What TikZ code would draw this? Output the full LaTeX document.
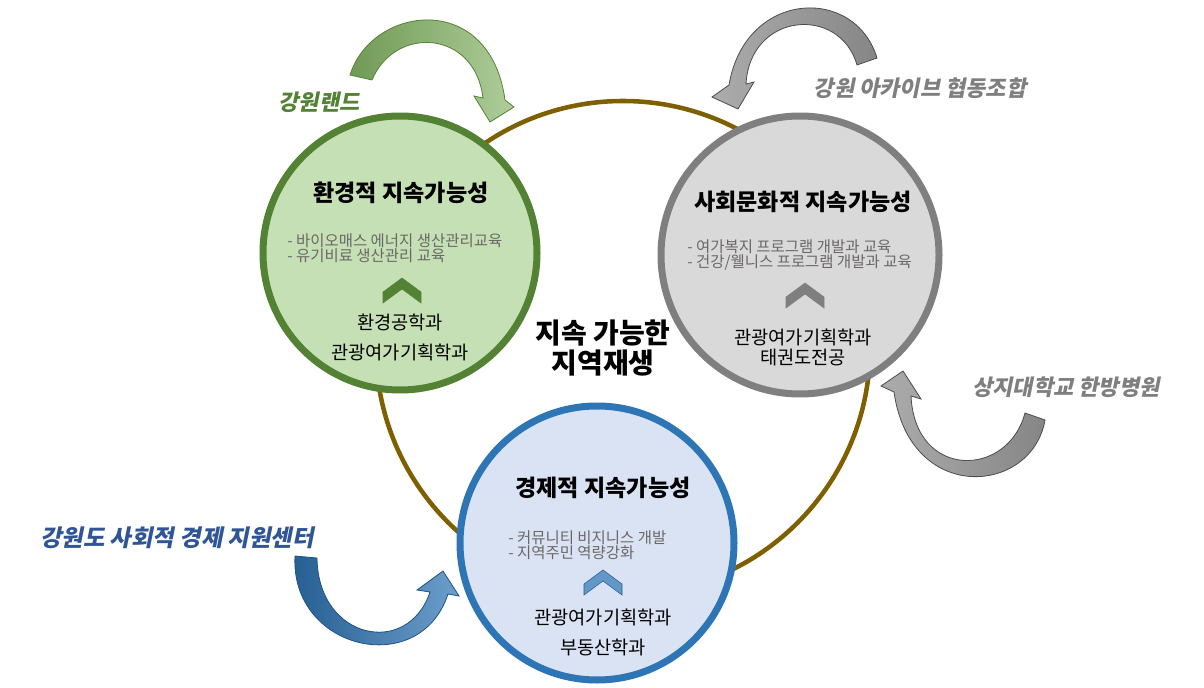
\documentclass[tikz,border=0pt]{standalone}
\usepackage{fontspec}
\setmainfont{Noto Sans CJK KR}
\newfontfamily\slantfont[FakeSlant=0.2]{Noto Sans CJK KR}
\usepackage{tikz}

\definecolor{ringbrown}{HTML}{7F6000}
\definecolor{envline}{HTML}{548235}
\definecolor{envfill}{HTML}{C5E0B4}
\definecolor{socline}{HTML}{7F7F7F}
\definecolor{socfill}{HTML}{D9D9D9}
\definecolor{ecoline}{HTML}{2E75B6}
\definecolor{ecofill}{HTML}{DAE3F3}
\definecolor{bulletgray}{HTML}{6B6767}
\definecolor{partnerblue}{HTML}{2F5597}

% chevron: top x, top y, fill, draw
\newcommand{\chevron}[4]{%
  \filldraw[fill=#3, draw=#4, line width=0.4pt] (#1-19,#2+14) -- (#1,#2) -- (#1+19,#2+14)
    -- (#1+19,#2+25) -- (#1,#2+11) -- (#1-19,#2+25) -- cycle;}

\begin{document}
\begin{tikzpicture}[x=0.75pt, y=-0.75pt,
    pillar/.style={circle, line width=5.25pt, minimum size=205.5pt, inner sep=0pt},
    title/.style={font=\fontsize{17.3}{20}\selectfont\bfseries},
    bullets/.style={font=\fontsize{11.6}{11.4}\selectfont, text=bulletgray, align=left, anchor=west, inner sep=0pt},
    dept/.style={font=\fontsize{14}{16}\selectfont},
    partner/.style={font=\slantfont\fontsize{16.5}{18}\selectfont\bfseries}]
            \useasboundingbox (0, 0) rectangle (1204, 688);
            \node[circle, draw=ringbrown, line width=3.4pt, minimum size=370.5pt] (ring) at (623, 348){};
            \node[pillar, draw=envline, fill=envfill] (env) at (400, 253){};
            \node[pillar, draw=socline, fill=socfill, minimum size=208.5pt] (soc) at (800, 255){};
            \node[pillar, draw=ecoline, fill=ecofill] (eco) at (597, 543){};
            % partner arrows
            \draw[left color=envline!75!envfill, right color=envfill!80!envline, draw=envline, line width=0.6pt]
                (350, 75) .. controls (372, 5) and (490, -10) .. (505, 100) -- (514, 107) -- (490, 122)
                -- (474, 96) -- (483, 98) .. controls (475, 30) and (395, 25) .. (372, 80) -- cycle;
            \draw[left color=gray!65, right color=gray!95, draw=gray!60!black, line width=0.6pt]
                (877, 58) .. controls (855, -15) and (745, -10) .. (729, 85) -- (712, 97) -- (738, 109)
                -- (754, 82) -- (746, 84) .. controls (750, 12) and (840, 5) .. (857, 65) -- cycle;
            \draw[left color=gray!65, right color=gray!95, draw=gray!60!black, line width=0.6pt]
                (1045, 420) .. controls (1032, 495) and (910, 505) .. (894, 392) -- (881, 386) -- (903, 371)
                -- (921, 399) -- (911, 396) .. controls (915, 480) and (1008, 478) .. (1025, 413) -- cycle;
            \draw[left color=ecoline!80!black, right color=ecoline!70!white, draw=ecoline!70!black, line width=0.6pt]
                (295, 556) .. controls (290, 650) and (420, 680) .. (448, 594) -- (459, 596) -- (443, 571)
                -- (417, 590) -- (430, 592) .. controls (408, 658) and (318, 640) .. (317, 558) -- cycle;
            % environmental
            \node[title] (envtitle) at (401, 193){환경적 지속가능성};
            \node[bullets] (envlist) at (287, 248){- 바이오매스 에너지 생산관리교육\\- 유기비료 생산관리 교육};
            \chevron{402}{278}{envline}{envline}
            \node[dept] (envdeptA) at (400, 322){환경공학과};
            \node[dept] (envdeptB) at (400, 352){관광여가기획학과};
            % socio-cultural
            \node[title] (soctitle) at (803, 202){사회문화적 지속가능성};
            \node[bullets] (soclist) at (687, 255){- 여가복지 프로그램 개발과 교육\\- 건강/웰니스 프로그램 개발과 교육};
            \chevron{805}{283}{socline}{socline}
            \node[dept] (socdeptA) at (803, 337){관광여가기획학과};
            \node[dept] (socdeptB) at (803, 358){태권도전공};
            % economic
            \node[title] (ecotitle) at (603, 488){경제적 지속가능성};
            \node[bullets] (ecolist) at (508, 545){- 커뮤니티 비지니스 개발\\- 지역주민 역량강화};
            \chevron{603}{570}{ecoline!75!white}{ecoline!80!black}
            \node[dept] (ecodeptA) at (603, 617){관광여가기획학과};
            \node[dept] (ecodeptB) at (603, 647){부동산학과};
            % centre and partners
            \node[font=\fontsize{21}{23}\selectfont\bfseries, align=center] (goal) at (603, 348){지속 가능한\\지역재생};
            \node[partner, text=envline] (land) at (319, 102){강원랜드};
            \node[partner, text=socline] (archive) at (920, 88){강원 아카이브 협동조합};
            \node[partner, text=socline] (hospital) at (1066, 387){상지대학교 한방병원};
            \node[partner, text=partnerblue, font=\slantfont\fontsize{17.5}{19}\selectfont\bfseries] (center) at (177, 538){강원도 사회적 경제 지원센터};
        \end{tikzpicture}
\end{document}
